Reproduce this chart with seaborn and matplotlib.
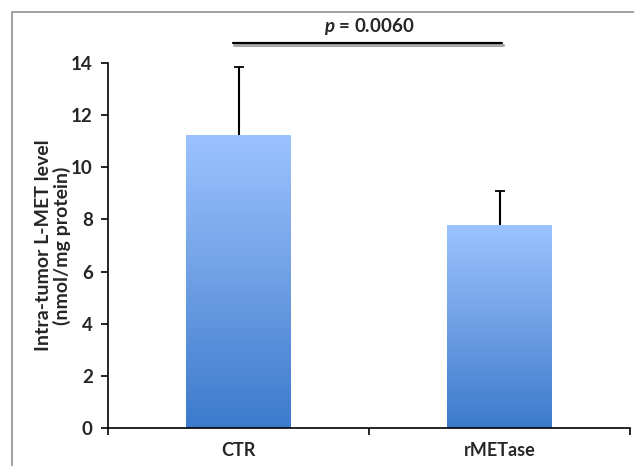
import numpy as np
import pandas as pd
import matplotlib
matplotlib.use("Agg")
import matplotlib.pyplot as plt
import seaborn as sns
from matplotlib.patches import Rectangle
from matplotlib.colors import LinearSegmentedColormap
import matplotlib.transforms as mtransforms

categories = ["CTR", "rMETase"]
means = [11.25, 7.78]
sds = [2.60, 1.32]
p_label = "$p$ = 0.0060"
yticks = [0, 2, 4, 6, 8, 10, 12, 14]

sns.set_theme(style="white")
plt.rcParams['font.family'] = ['Lato', 'DejaVu Sans']
plt.rcParams['mathtext.fontset'] = 'custom'
plt.rcParams['mathtext.it'] = 'Lato:italic:bold'
plt.rcParams['mathtext.rm'] = 'Lato:bold'

fig = plt.figure(figsize=(6.34, 4.66), dpi=100)
ax = fig.add_axes([108/634, 1-428/466, 522/634, (428-63)/466])

df = pd.DataFrame({"group": categories, "value": means})
sns.barplot(data=df, x="group", y="value", ax=ax, width=0.4, color="#6aa0e8", errorbar=None)

cmap = LinearSegmentedColormap.from_list("g", ["#3c7acc", "#6f9fe4", "#9cc3ff"])
grad = np.linspace(0, 1, 256).reshape(-1, 1)
for patch in ax.patches:
    x0, y0 = patch.get_x(), patch.get_y()
    w, h = patch.get_width(), patch.get_height()
    im = ax.imshow(grad, cmap=cmap, origin="lower", aspect="auto",
                   extent=[x0, x0 + w, y0, y0 + h], zorder=2)
    im.set_clip_path(patch)
    patch.set_facecolor("none")
    patch.set_edgecolor("none")

xs = np.arange(len(categories))
tops = np.array(means) + np.array(sds)
ax.vlines(xs, means, tops, color="black", lw=1.5, zorder=3)
ax.plot(xs, tops, linestyle="none", marker="_", markersize=7, markeredgewidth=1.3,
        color="black", zorder=3)

ax.set_xlim(-0.5, 1.5)
ax.set_ylim(0, 14)
ax.set_yticks(yticks)
ax.set_xlabel("")
ax.set_ylabel("Intra-tumor L-MET level\n(nmol/mg protein)", fontsize=14, fontweight="bold",
              labelpad=0, linespacing=1.05)
for s in ["top", "right"]:
    ax.spines[s].set_visible(False)
for s in ["left", "bottom"]:
    ax.spines[s].set_color("black")
    ax.spines[s].set_linewidth(1.2)
ax.tick_params(axis="y", which="major", direction="out", length=5, width=1.2, color="black",
               left=True, labelsize=13.5, pad=6)
ax.tick_params(axis="x", which="major", length=0, labelsize=13, pad=10)
ax.set_xticks([-0.5, 0.5, 1.5], minor=True)
ax.tick_params(axis="x", which="minor", direction="out", length=5, width=1.2, color="black", bottom=True)
for lab in ax.get_xticklabels() + ax.get_yticklabels():
    lab.set_fontweight("bold")

# significance bar
shadow = ax.transData + mtransforms.ScaledTranslation(1/100, -1.5/100, fig.dpi_scale_trans)
ax.plot([-0.02, 1.01], [14.75, 14.75], color="#aaaaaa", lw=2.2, clip_on=False, zorder=4,
        transform=shadow)
ax.plot([-0.02, 1.01], [14.75, 14.75], color="black", lw=1.6, clip_on=False, zorder=5)
ax.text(0.5, 15.0, p_label, ha="center", va="bottom", fontsize=13.5, fontweight="bold")

fig.patches.append(Rectangle((12/634, -0.1), 1.2, 1-12/466+0.1, transform=fig.transFigure,
                             fill=False, edgecolor="#9a9a9a", lw=1.3))

fig.savefig("out.png", dpi=100)
